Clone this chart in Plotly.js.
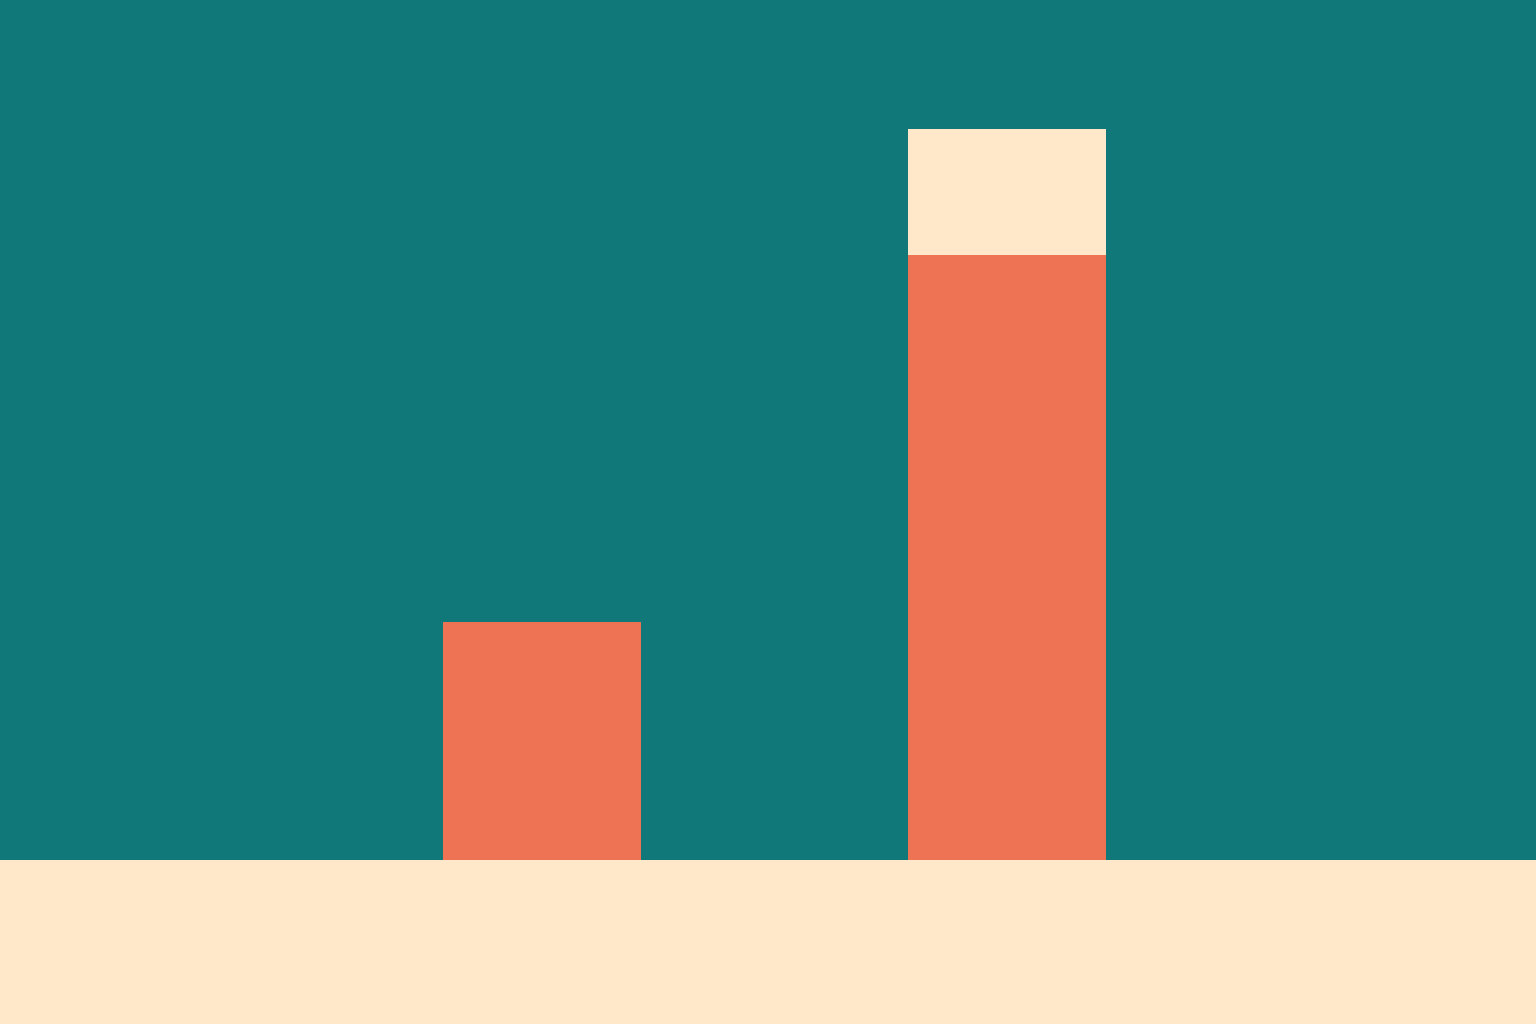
<!DOCTYPE html>
<html>
<head>
<meta charset="utf-8">
<script src="https://cdn.plot.ly/plotly-3.0.1.min.js"></script>
<style>
  html, body { margin: 0; padding: 0; background: #FFE7C9; }
  #chart { width: 1536px; height: 1024px; }
</style>
</head>
<body>
<div id="chart"></div>
<script>
// two columns, the second one with a light cap on top
const categories = [0, 1];
const baseValues = [27.7, 70.3];
const capValues = [null, 14.7];

const teal = '#11787A';
const coral = '#EE7354';
const cream = '#FFE7C9';

var data = [
    {
        type: 'bar',
        x: categories,
        y: baseValues,
        width: 0.426,
        marker: { color: coral, line: { width: 0 } },
        hoverinfo: 'skip',
        showlegend: false
    },
    {
        type: 'bar',
        x: categories,
        y: capValues,
        width: 0.426,
        marker: { color: cream, line: { width: 0 } },
        hoverinfo: 'skip',
        showlegend: false
    }
];

var layout = {
    width: 1536,
    height: 1024,
    barmode: 'stack',
    margin: { l: 0, r: 0, t: 0, b: 164, pad: 0 },
    paper_bgcolor: cream,
    plot_bgcolor: teal,
    xaxis: {
        range: [-1.166, 2.138],
        visible: false,
        showgrid: false,
        zeroline: false,
        fixedrange: true
    },
    yaxis: {
        range: [0, 100],
        visible: false,
        showgrid: false,
        zeroline: false,
        fixedrange: true
    }
};

Plotly.newPlot('chart', data, layout, { displayModeBar: false, staticPlot: true });
</script>
</body>
</html>
